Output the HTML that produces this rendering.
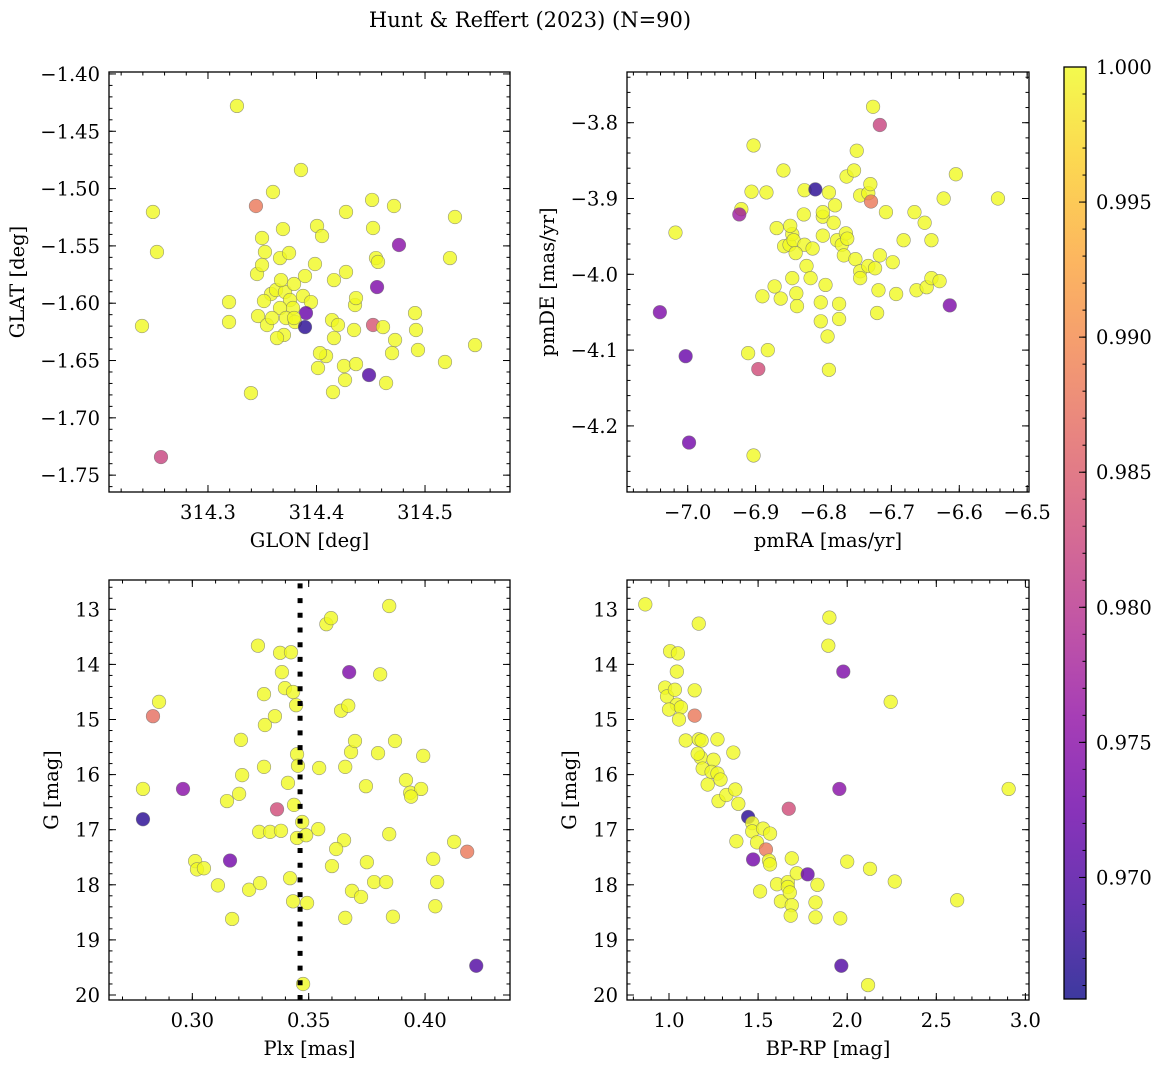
<!DOCTYPE html>
<html><head><meta charset="utf-8">
<style>
html,body{margin:0;padding:0;background:#fff;}
svg{display:block;font-family:"DejaVu Serif","Liberation Serif",serif;}
</style></head>
<body>
<svg id="fig" width="1161" height="1067" viewBox="0 0 1161 1067" xmlns="http://www.w3.org/2000/svg">
<defs>
<linearGradient id="plasma" x1="0" y1="1" x2="0" y2="0">
<stop offset="0" stop-color="#0d0887"/><stop offset="0.1" stop-color="#41049d"/><stop offset="0.2" stop-color="#6a00a8"/><stop offset="0.3" stop-color="#8f0da4"/><stop offset="0.4" stop-color="#b12a90"/><stop offset="0.5" stop-color="#cc4778"/><stop offset="0.6" stop-color="#e16462"/><stop offset="0.7" stop-color="#f2844b"/><stop offset="0.8" stop-color="#fca636"/><stop offset="0.9" stop-color="#fcce25"/><stop offset="1" stop-color="#f0f921"/>
</linearGradient>
</defs>
<text x="530" y="27" font-size="21" text-anchor="middle">Hunt &amp; Reffert (2023) (N=90)</text>
</svg>
<script>
// ---- data ----
const p1Glon=[314.3267,314.2493,314.2530,314.2392,314.2567,314.3442,314.3857,314.3599,314.3498,314.3691,314.3194,314.3194,314.3461,314.3396,314.3525,314.3452,314.3664,314.3747,314.3498,314.3581,314.3627,314.3710,314.3673,314.3793,314.3894,314.3986,314.4005,314.4051,314.4272,314.4512,314.4714,314.4521,314.4548,314.4567,314.4760,314.4558,314.4272,314.4161,314.4355,314.3756,314.3783,314.3876,314.3949,314.3664,314.3719,314.3802,314.3903,314.3894,314.3793,314.3700,314.3636,314.3544,314.3590,314.3516,314.4143,314.4198,314.4161,314.4346,314.4521,314.4613,314.4088,314.4014,314.4253,314.4364,314.4263,314.4484,314.4641,314.4152,314.4696,314.4935,314.5184,314.5461,314.5276,314.5230,314.4908,314.4917,314.4724,314.4364,314.4032];
const p1Glat=[-1.4279,-1.5204,-1.5553,-1.6199,-1.7342,-1.5152,-1.4838,-1.5030,-1.5431,-1.5353,-1.5990,-1.6164,-1.6112,-1.6784,-1.5553,-1.5745,-1.5606,-1.5562,-1.5667,-1.5920,-1.5885,-1.5902,-1.5798,-1.5832,-1.5763,-1.5658,-1.5326,-1.5414,-1.5204,-1.5099,-1.5152,-1.5344,-1.5606,-1.5640,-1.5492,-1.5859,-1.5728,-1.5798,-1.6016,-1.5972,-1.6042,-1.5937,-1.5990,-1.6042,-1.6129,-1.6164,-1.6086,-1.6208,-1.6129,-1.6277,-1.6304,-1.6190,-1.6129,-1.5981,-1.6147,-1.6190,-1.6304,-1.6234,-1.6190,-1.6208,-1.6461,-1.6565,-1.6548,-1.6531,-1.6670,-1.6627,-1.6696,-1.6775,-1.6435,-1.6408,-1.6513,-1.6365,-1.5248,-1.5606,-1.6086,-1.6234,-1.6321,-1.5955,-1.6435];
const p1Prob=[1,1,1,1,0.982,0.988,1,1,1,1,1,1,1,1,1,1,1,1,1,1,1,1,1,1,1,1,1,1,1,1,1,1,1,1,0.975,0.974,1,1,1,1,1,1,1,1,1,1,0.972,0.967,1,1,1,1,1,1,1,1,1,1,0.984,1,1,1,1,1,1,0.970,1,1,1,1,1,1,1,1,1,1,1,1,1];

const p2PmRA=[-7.018,-7.041,-7.003,-6.998,-6.903,-6.911,-6.896,-6.882,-6.903,-6.906,-6.884,-6.921,-6.924,-6.859,-6.869,-6.858,-6.850,-6.846,-6.849,-6.828,-6.812,-6.792,-6.829,-6.844,-6.828,-6.841,-6.816,-6.825,-6.801,-6.801,-6.801,-6.780,-6.773,-6.783,-6.766,-6.755,-6.751,-6.746,-6.734,-6.731,-6.730,-6.727,-6.717,-6.785,-6.767,-6.765,-6.770,-6.753,-6.746,-6.734,-6.724,-6.717,-6.698,-6.708,-6.682,-6.693,-6.719,-6.721,-6.746,-6.777,-6.777,-6.797,-6.804,-6.804,-6.794,-6.792,-6.840,-6.839,-6.863,-6.872,-6.890,-6.846,-6.819,-6.663,-6.648,-6.641,-6.629,-6.614,-6.666,-6.651,-6.641,-6.605,-6.623,-6.543];
const p2PmDE=[-3.945,-4.050,-4.108,-4.222,-4.239,-4.104,-4.125,-4.100,-3.830,-3.891,-3.892,-3.914,-3.921,-3.863,-3.939,-3.963,-3.961,-3.947,-3.936,-3.889,-3.888,-3.892,-3.921,-3.955,-3.961,-3.972,-3.966,-3.989,-3.949,-3.924,-3.918,-3.955,-3.961,-3.909,-3.871,-3.863,-3.837,-3.896,-3.893,-3.881,-3.904,-3.779,-3.803,-3.932,-3.946,-3.953,-3.975,-3.980,-3.996,-3.989,-3.992,-3.975,-3.984,-3.918,-3.955,-4.026,-4.021,-4.051,-4.005,-4.039,-4.059,-4.014,-4.037,-4.062,-4.082,-4.126,-4.025,-4.042,-4.032,-4.016,-4.029,-4.005,-4.005,-4.021,-4.017,-4.005,-4.009,-4.041,-3.918,-3.932,-3.955,-3.868,-3.900,-3.900];
const p2Prob=[1,0.974,0.972,0.973,1,1,0.983,1,1,1,1,1,0.977,1,1,1,1,1,1,1,0.967,1,1,1,1,1,1,1,1,1,1,1,1,1,1,1,1,1,1,1,0.988,1,0.982,1,1,1,1,1,1,1,1,1,1,1,1,1,1,1,1,1,1,1,1,1,1,1,1,1,1,1,1,1,1,1,1,1,1,0.974,1,1,1,1,1,1];

const p3Plx=[0.2788,0.2788,0.2831,0.2857,0.2960,0.3012,0.3020,0.3050,0.3110,0.3162,0.3171,0.3149,0.3201,0.3214,0.3209,0.3244,0.3282,0.3308,0.3312,0.3291,0.3287,0.3308,0.3334,0.3355,0.3364,0.3381,0.3377,0.3385,0.3398,0.3411,0.3420,0.3424,0.3433,0.3446,0.3450,0.3454,0.3437,0.3450,0.3433,0.3493,0.3476,0.3489,0.3472,0.3545,0.3541,0.3576,0.3596,0.3639,0.3674,0.3670,0.3657,0.3682,0.3699,0.3652,0.3618,0.3600,0.3657,0.3686,0.3725,0.3750,0.3746,0.3781,0.3798,0.3807,0.3833,0.3846,0.3846,0.3862,0.3871,0.3918,0.3936,0.3983,0.3940,0.3992,0.4035,0.4044,0.4052,0.4125,0.4181,0.4220];
const p3G=[16.26,16.81,14.94,14.68,16.26,17.57,17.72,17.70,18.01,17.56,18.62,16.48,16.35,16.01,15.37,18.09,13.66,14.54,15.10,17.97,17.04,15.86,17.04,14.94,16.63,17.02,13.79,14.14,14.43,16.15,17.88,13.78,14.50,14.74,15.63,15.84,16.55,17.15,18.30,18.33,19.80,17.10,16.86,15.88,16.99,13.27,13.16,14.84,14.14,14.75,15.86,15.59,15.39,17.19,17.35,17.66,18.60,18.11,18.22,17.59,16.21,17.95,15.61,14.18,17.95,12.94,17.08,18.58,15.39,16.10,16.33,16.26,16.40,15.66,17.53,18.39,17.95,17.22,17.40,19.47];
const p3Prob=[1,0.967,0.987,1,0.975,1,1,1,1,0.973,1,1,1,1,1,1,1,1,1,1,1,1,1,1,0.983,1,1,1,1,1,1,1,1,1,1,1,1,1,1,1,1,1,1,1,1,1,1,1,0.974,1,1,1,1,1,1,1,1,1,1,1,1,1,1,1,1,1,1,1,1,1,1,1,1,1,1,1,1,1,0.988,0.970];
const plxMedian=0.3463;

const p4BpRp=[0.867,1.006,1.050,0.978,0.989,1.033,1.044,1.044,1.000,1.067,1.056,1.144,1.144,1.167,1.094,1.167,1.178,1.183,1.161,1.189,1.272,1.250,1.217,1.239,1.272,1.278,1.289,1.322,1.361,1.372,1.389,1.378,1.444,1.467,1.467,1.472,1.494,1.528,1.544,1.567,1.561,1.511,1.567,1.606,1.628,1.667,1.667,1.672,1.689,1.678,1.689,1.683,1.717,1.778,1.822,1.833,1.822,1.894,1.900,1.978,1.956,1.961,1.967,2.000,2.117,2.128,2.244,2.267,2.617,2.906];
const p4G=[12.91,13.76,13.80,14.42,14.58,14.46,14.13,14.73,14.82,14.78,15.00,14.47,14.93,13.26,15.38,15.36,15.69,15.38,15.62,15.89,15.36,15.73,16.18,15.95,15.98,16.48,16.09,16.37,15.60,16.27,16.53,17.21,16.77,16.88,17.03,17.54,17.23,16.98,17.36,17.07,17.56,18.12,17.63,17.99,18.30,17.95,18.04,16.62,17.52,18.14,18.37,18.56,17.79,17.81,18.32,18.00,18.59,13.66,13.15,14.13,16.26,18.61,19.47,17.58,19.82,17.71,14.68,17.94,18.28,16.26];
const p4Prob=[1,1,1,1,1,1,1,1,1,1,1,1,0.988,1,1,1,1,1,1,1,1,1,1,1,1,1,1,1,1,1,1,1,0.967,1,1,0.973,1,1,0.988,1,1,1,1,1,1,1,1,0.983,1,1,1,1,1,0.972,1,1,1,1,1,0.974,0.975,1,0.970,1,1,1,1,1,1,1];

const cbTicks=[1.000,0.995,0.990,0.985,0.980,0.975,0.970];
const vmin=0.9655, vmax=1.0;

// ---- rendering ----
const NS="http://www.w3.org/2000/svg";
const FS=19.5;
const svg=document.getElementById('fig');
const stops=[[0,[13,8,135]],[0.1,[65,4,157]],[0.2,[106,0,168]],[0.3,[143,13,164]],[0.4,[177,42,144]],[0.5,[204,71,120]],[0.6,[225,100,98]],[0.7,[242,132,75]],[0.8,[252,166,54]],[0.9,[252,206,37]],[1,[240,249,33]]];
function plasma(t){t=Math.max(0,Math.min(1,t));for(let i=1;i<stops.length;i++){if(t<=stops[i][0]){const a=stops[i-1],b=stops[i];const f=(t-a[0])/(b[0]-a[0]);const c=a[1].map((v,k)=>Math.round(v+(b[1][k]-v)*f));return `rgb(${c[0]},${c[1]},${c[2]})`;}}return 'rgb(240,249,33)';}
function mk(tag,attrs,parent){const e=document.createElementNS(NS,tag);for(const k in attrs)e.setAttribute(k,attrs[k]);(parent||svg).appendChild(e);return e;}
function fmt(v,d){let s=v.toFixed(d);if(v<0)s='\u2212'+s.slice(1);return s;}

function panel(cfg){
  const g=mk('g',{});
  
  
  const {L,R,T,B,xmin,xmax,ymin,ymax,invert}=cfg;
  const sx=v=>L+(v-xmin)/(xmax-xmin)*(R-L);
  const sy=invert?(v=>T+(v-ymin)/(ymax-ymin)*(B-T)):(v=>B-(v-ymin)/(ymax-ymin)*(B-T));
  const pg=mk('g',{},g);
  
  
  for(let i=0;i<cfg.xs.length;i++){
    const c=mk('circle',{cx:sx(cfg.xs[i]),cy:sy(cfg.ys[i]),r:6.8,fill:plasma((cfg.ps[i]-vmin)/(vmax-vmin)),'fill-opacity':0.8,stroke:'#6e6e6e','stroke-opacity':0.7,'stroke-width':0.6},pg);
    
    
  }
  if(cfg.vline!==undefined){
    const l=mk('line',{x1:sx(cfg.vline),x2:sx(cfg.vline),y1:B,y2:T,stroke:'#000','stroke-width':5,'stroke-dasharray':'5 9.7'},g);
    
    
  }
  const tg=mk('g',{stroke:'#000','stroke-width':1},g);
  
  
  const eps=1e-9;
  function eachTick(lo,hi,step,fn){const s=Math.ceil(lo/step-eps);for(let k=s;k*step<=hi+eps;k++)fn(k*step);}
  eachTick(cfg.xmin,cfg.xmax,cfg.xminor,v=>{const x=sx(v);mk('line',{x1:x,x2:x,y1:B,y2:B-3.5},tg);mk('line',{x1:x,x2:x,y1:T,y2:T+3.5},tg);});
  eachTick(Math.min(ymin,ymax),Math.max(ymin,ymax),cfg.yminor,v=>{const y=sy(v);mk('line',{x1:L,x2:L+3.5,y1:y,y2:y},tg);mk('line',{x1:R,x2:R-3.5,y1:y,y2:y},tg);});
  cfg.xticks.forEach(v=>{const x=sx(v);mk('line',{x1:x,x2:x,y1:B,y2:B-7},tg);mk('line',{x1:x,x2:x,y1:T,y2:T+7},tg);
    const t=mk('text',{x:x,y:B+27,'font-size':FS,'text-anchor':'middle',stroke:'none',fill:'#000'},g);t.textContent=fmt(v,cfg.xdec);
    
    });
  cfg.yticks.forEach(v=>{const y=sy(v);mk('line',{x1:L,x2:L+7,y1:y,y2:y},tg);mk('line',{x1:R,x2:R-7,y1:y,y2:y},tg);
    const t=mk('text',{x:L-9,y:y+7,'font-size':FS,'text-anchor':'end',stroke:'none',fill:'#000'},g);t.textContent=fmt(v,cfg.ydec);
    
    });
  const fr=mk('rect',{x:L,y:T,width:R-L,height:B-T,fill:'none',stroke:'#000','stroke-width':1.3},g);
  
  
  const xl=mk('text',{x:(L+R)/2,y:B+55,'font-size':FS,'text-anchor':'middle'},g);xl.textContent=cfg.xlabel;
  
  
  const yl=mk('text',{x:0,y:0,'font-size':FS,'text-anchor':'middle',transform:`translate(${cfg.ylx},${(T+B)/2}) rotate(-90)`},g);yl.textContent=cfg.ylabel;
  
  
}

panel({name:'glon-glat-panel',L:109,R:510,T:72,B:492,xmin:314.2088,xmax:314.5783,ymin:-1.7647,ymax:-1.3983,
  xs:p1Glon,ys:p1Glat,ps:p1Prob,xticks:[314.3,314.4,314.5],xminor:0.02,xdec:1,yticks:[-1.40,-1.45,-1.50,-1.55,-1.60,-1.65,-1.70,-1.75],yminor:0.01,ydec:2,
  xlabel:'GLON [deg]',ylabel:'GLAT [deg]',ylx:24});
panel({name:'pm-panel',L:627,R:1029,T:72,B:492,xmin:-7.0894,xmax:-6.4973,ymin:-4.2872,ymax:-3.7331,
  xs:p2PmRA,ys:p2PmDE,ps:p2Prob,xticks:[-7.0,-6.9,-6.8,-6.7,-6.6,-6.5],xminor:0.02,xdec:1,yticks:[-3.8,-3.9,-4.0,-4.1,-4.2],yminor:0.02,ydec:1,
  xlabel:'pmRA [mas/yr]',ylabel:'pmDE [mas/yr]',ylx:554});
panel({name:'plx-g-panel',L:109,R:510,T:580,B:1000,xmin:0.2642,xmax:0.4365,ymin:12.468,ymax:20.091,invert:true,
  xs:p3Plx,ys:p3G,ps:p3Prob,vline:plxMedian,xticks:[0.30,0.35,0.40],xminor:0.01,xdec:2,yticks:[13,14,15,16,17,18,19,20],yminor:0.2,ydec:0,
  xlabel:'Plx [mas]',ylabel:'G [mag]',ylx:58});
panel({name:'cmd-panel',L:627,R:1029,T:580,B:1000,xmin:0.7643,xmax:3.0202,ymin:12.468,ymax:20.091,invert:true,
  xs:p4BpRp,ys:p4G,ps:p4Prob,xticks:[1.0,1.5,2.0,2.5,3.0],xminor:0.1,xdec:1,yticks:[13,14,15,16,17,18,19,20],yminor:0.2,ydec:0,
  xlabel:'BP-RP [mag]',ylabel:'G [mag]',ylx:576});

(function(){
  const L=1064,R=1086,T=67,B=999;
  const cg=mk('g',{});
  
  
  mk('rect',{x:L,y:T,width:R-L,height:B-T,fill:'url(#plasma)','fill-opacity':0.8},cg);
  const cy=v=>B-(v-vmin)/(vmax-vmin)*(B-T);
  for(let k=966;k<=1000;k++){const y=cy(k/1000);mk('line',{x1:R,x2:R-3.5,y1:y,y2:y,stroke:'#000','stroke-width':1},cg);}
  cbTicks.forEach(v=>{const y=cy(v);mk('line',{x1:R,x2:R-7,y1:y,y2:y,stroke:'#000','stroke-width':1},cg);
    const t=mk('text',{x:R+10,y:y+7,'font-size':FS},cg);t.textContent=v.toFixed(3);
    
    });
  mk('rect',{x:L,y:T,width:R-L,height:B-T,fill:'none',stroke:'#000','stroke-width':1.3},cg);
})();
</script>
</body></html>
